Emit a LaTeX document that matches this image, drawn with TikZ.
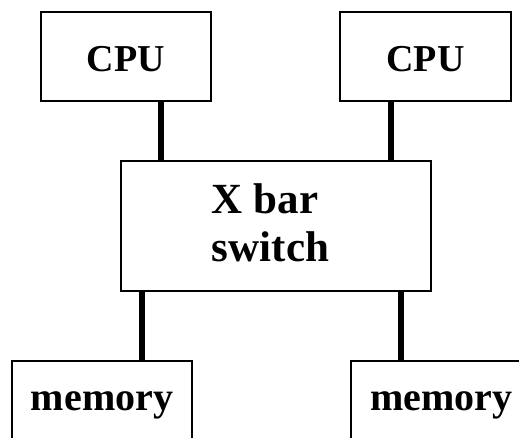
\documentclass[tikz,border=0pt]{standalone}
\usepackage{fontspec}
\setmainfont{Liberation Serif}
\begin{document}
\begin{tikzpicture}[x=1pt,y=1pt,
  box/.style={draw=black, line width=1.8pt, rectangle, inner sep=0pt, fill=white},
  conn/.style={line width=5.5pt, line cap=butt},
  cpufont/.style={font=\fontsize{38}{44}\selectfont\bfseries, text height=30pt, text depth=0pt},
  memfont/.style={font=\fontsize{40}{46}\selectfont\bfseries, text height=20pt, text depth=10pt},
  swfont/.style={font=\fontsize{43}{48.3}\selectfont\bfseries, align=left}
]
\useasboundingbox (0,0) rectangle (519,-437);
\clip (0,0) rectangle (519,-437);
\fill[white] (0,0) rectangle (519,-437);

\node[box, cpufont, minimum width=170pt, minimum height=89pt] (cpu1) at (126,-56.5) {CPU};
\node[box, cpufont, minimum width=171pt, minimum height=89pt] (cpu2) at (425.5,-56.5) {CPU};
\node[box, swfont, minimum width=310pt, minimum height=130pt] (sw) at (276,-226)
  {X bar\\switch\hspace*{11pt}\rule[-7.4pt]{0pt}{0pt}};
\node[box, memfont, minimum width=180pt, minimum height=88pt] (mem1) at (102,-405) {memory};
\node[box, memfont, minimum width=181pt, minimum height=88pt] (mem2) at (441.5,-405) {memory};

\draw[conn] ([xshift=35pt]cpu1.south) -- ([xshift=35pt]cpu1.south |- sw.north);
\draw[conn] ([xshift=-34.5pt]cpu2.south) -- ([xshift=-34.5pt]cpu2.south |- sw.north);
\draw[conn] ([xshift=-134pt]sw.south) -- ([xshift=-134pt]sw.south |- mem1.north);
\draw[conn] ([xshift=125pt]sw.south) -- ([xshift=125pt]sw.south |- mem2.north);
\end{tikzpicture}
\end{document}
